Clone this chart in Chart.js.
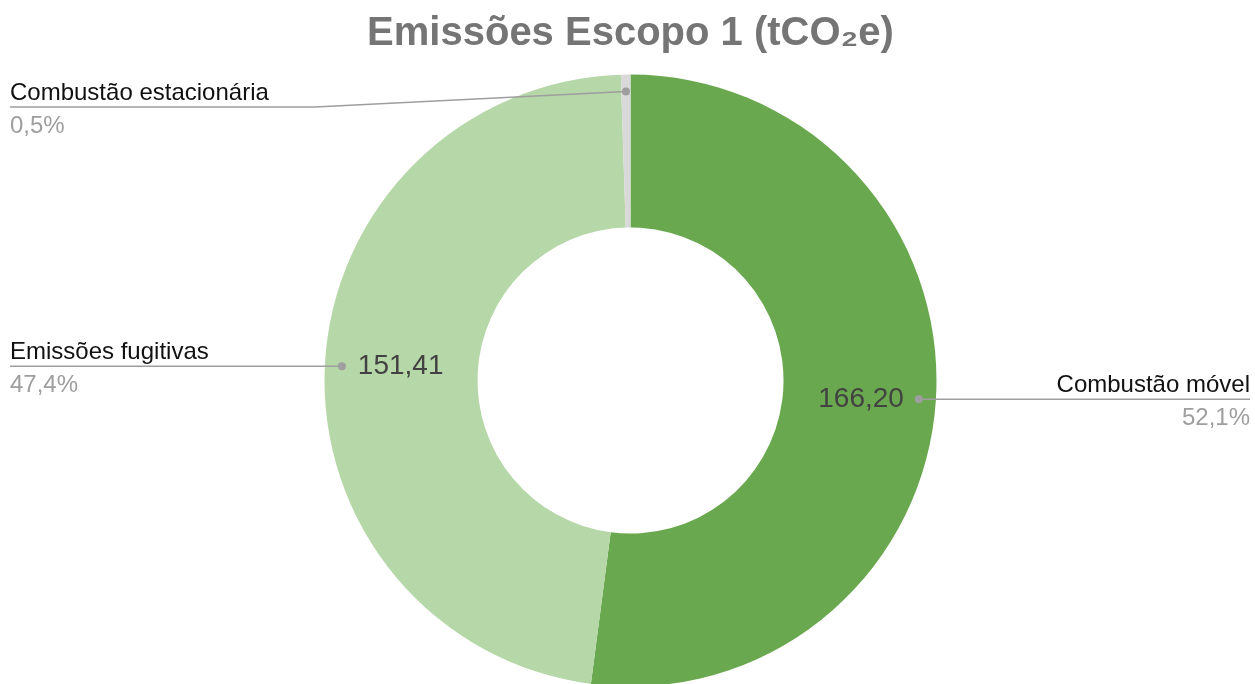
<!DOCTYPE html>
<html>
<head>
<meta charset="utf-8">
<script src="https://cdn.jsdelivr.net/npm/chart.js@4.4.1/dist/chart.umd.min.js"></script>
<style>
  html, body { margin: 0; padding: 0; background: #fff; }
  #wrap { width: 1255px; height: 684px; position: relative; }
</style>
</head>
<body>
<div id="wrap"><canvas id="myChart"></canvas></div>
<script>
// chart data
var labels = ['Combustão móvel', 'Emissões fugitivas', 'Combustão estacionária'];
var values = [166.20, 151.41, 1.60];
var valueLabels = ['166,20', '151,41', ''];   // shown inside the ring
var pctLabels = ['52,1%', '47,4%', '0,5%'];
var colors = ['#6aa84f', '#b6d7a8', '#d9d9d9'];

var FONT = '"Liberation Sans", Arial, sans-serif';

// draws the callout labels, leader lines and value labels
const calloutPlugin = {
    id: 'callouts',
    afterDatasetsDraw(chart) {
        const ctx = chart.ctx;
        const arcs = chart.getDatasetMeta(0).data;
        const W = chart.width;
        arcs.forEach((arc, i) => {
            const mid = (arc.startAngle + arc.endAngle) / 2;
            const r = arc.outerRadius - 17;
            const ax = arc.x + Math.cos(mid) * r;
            const ay = arc.y + Math.sin(mid) * r;
            const left = ax < arc.x;
            const lineY = Math.max(ay, chart.chartArea.top + 30);

            ctx.save();
            // leader line
            ctx.strokeStyle = '#9e9e9e';
            ctx.lineWidth = 1.5;
            ctx.beginPath();
            ctx.moveTo(ax, ay);
            if (left) {
                if (lineY !== ay) ctx.lineTo(315, lineY);
                ctx.lineTo(10, lineY);
            } else {
                if (lineY !== ay) ctx.lineTo(W - 315, lineY);
                ctx.lineTo(W - 5, lineY);
            }
            ctx.stroke();
            // dot
            ctx.fillStyle = '#9e9e9e';
            ctx.beginPath();
            ctx.arc(ax, ay, 4, 0, Math.PI * 2);
            ctx.fill();

            // category + percentage
            ctx.textAlign = left ? 'left' : 'right';
            const tx = left ? 10 : W - 5;
            ctx.textBaseline = 'alphabetic';
            ctx.font = '24px ' + FONT;
            ctx.fillStyle = '#111111';
            ctx.fillText(labels[i], tx, lineY - 7);
            ctx.fillStyle = '#9e9e9e';
            ctx.fillText(pctLabels[i], tx, lineY + 26);

            // value inside ring
            if (valueLabels[i]) {
                ctx.font = '28px ' + FONT;
                ctx.fillStyle = '#424242';
                ctx.textBaseline = 'middle';
                ctx.textAlign = left ? 'left' : 'right';
                ctx.fillText(valueLabels[i], left ? ax + 16 : ax - 15, ay);
            }
            ctx.restore();
        });
    }
};

const ctx = document.getElementById('myChart');
var myChart = new Chart(ctx, {
    type: 'doughnut',
    data: {
        labels: labels,
        datasets: [{
            data: values,
            backgroundColor: colors,
            borderWidth: 0
        }]
    },
    options: {
        responsive: true,
        maintainAspectRatio: false,
        animation: false,
        cutout: '50%',
        radius: 306,
        layout: { padding: { left: 6, right: 0, top: 0, bottom: 0 } },
        plugins: {
            legend: { display: false },
            tooltip: { enabled: false },
            title: {
                display: true,
                text: 'Emissões Escopo 1 (tCO₂e)',
                color: '#757575',
                font: { family: FONT, size: 40, weight: 'bold', lineHeight: 1.2 },
                padding: { top: 10, bottom: 19 }
            }
        }
    },
    plugins: [calloutPlugin]
});
</script>
</body>
</html>
